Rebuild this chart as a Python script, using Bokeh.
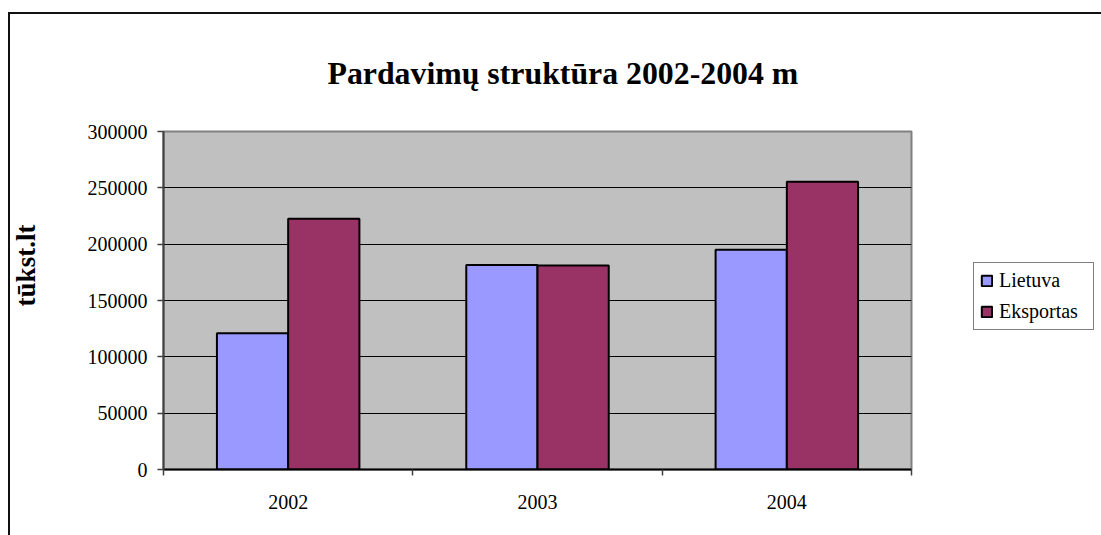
import math
from bokeh.plotting import figure
from bokeh.layouts import row
from bokeh.models import (Range1d, FixedTicker, Legend, LegendItem, Title, Label,
                          ColumnDataSource, NumeralTickFormatter, InlineStyleSheet)
from bokeh.transform import dodge
from bokeh.embed import file_html
from bokeh.resources import INLINE

# ---- data ----
years = ["2002", "2003", "2004"]
lietuva = [121000, 181500, 195000]
eksportas = [222500, 181000, 255500]
series_names = ["Lietuva", "Eksportas"]
series_colors = ["#9999FF", "#993366"]
y_ticks = [0, 50000, 100000, 150000, 200000, 250000, 300000]
title_text = "Pardavimų struktūra 2002-2004 m"
y_label_text = "tūkst.lt"

FONT = "Liberation Serif"
H = 535
WL, WA, WB = 70, 870, 161
TOP, BOTTOM = 131, 66          # borders around the plot area (frames are aligned in the row)

n = len(years)
centers = [i + 0.5 for i in range(n)]
src = ColumnDataSource(dict(x=centers, year=years, lietuva=lietuva, eksportas=eksportas))

# ---------- left strip: y-axis caption ----------
pl = figure(width=WL, height=H, x_range=Range1d(0, WL), y_range=Range1d(H - BOTTOM, TOP),
            x_axis_type=None, y_axis_type=None, output_backend="svg", toolbar_location=None,
            min_border=0, min_border_left=0, min_border_right=0,
            min_border_top=0, min_border_bottom=0)
pl.outline_line_color = None
pl.background_fill_color = "white"
pl.border_fill_color = "white"
pl.add_layout(Label(x=25, y=265, text=y_label_text, angle=math.pi / 2,
                    text_font=FONT, text_font_size="27px", text_font_style="bold",
                    text_align="center", text_baseline="middle", text_color="black"))

# ---------- main chart ----------
p = figure(width=WA, height=H,
           x_range=Range1d(0, n),
           y_range=Range1d(y_ticks[0], y_ticks[-1]),
           output_backend="svg", toolbar_location=None,
           min_border_left=93, min_border_right=29,
           min_border_top=TOP, min_border_bottom=BOTTOM)
p.background_fill_color = "#C0C0C0"
p.border_fill_color = "white"
p.outline_line_color = "#808080"
p.outline_line_width = 2

bw = 0.2857
r1 = p.vbar(x=dodge("x", -bw / 2), top="lietuva", width=bw, source=src,
            fill_color=series_colors[0], line_color="black", line_width=2)
r2 = p.vbar(x=dodge("x", bw / 2), top="eksportas", width=bw, source=src,
            fill_color=series_colors[1], line_color="black", line_width=2)

p.yaxis.ticker = FixedTicker(ticks=y_ticks)
p.yaxis.formatter = NumeralTickFormatter(format="0")
p.yaxis.major_label_text_font = FONT
p.yaxis.major_label_text_font_size = "20px"
p.yaxis.major_label_text_color = "black"
p.yaxis.major_tick_in = 0
p.yaxis.major_tick_out = 6
p.yaxis.major_tick_line_color = "#404040"
p.yaxis.major_tick_line_width = 1.5
p.yaxis.minor_tick_line_color = None
p.yaxis.axis_line_color = "#404040"
p.yaxis.axis_line_width = 2
p.yaxis.major_label_standoff = 10

p.ygrid.ticker = FixedTicker(ticks=y_ticks[1:-1])
p.ygrid.grid_line_color = "black"
p.ygrid.grid_line_width = 1
p.xgrid.grid_line_color = None

p.xaxis.ticker = FixedTicker(ticks=centers, minor_ticks=list(range(n + 1)))
p.xaxis.major_label_overrides = {c: y for c, y in zip(centers, years)}
p.xaxis.major_tick_line_color = None
p.xaxis.major_tick_in = 0
p.xaxis.major_tick_out = 0
p.xaxis.minor_tick_in = 0
p.xaxis.minor_tick_out = 6
p.xaxis.minor_tick_line_color = "#404040"
p.xaxis.minor_tick_line_width = 1.5
p.xaxis.axis_line_color = "black"
p.xaxis.axis_line_width = 2
p.xaxis.major_label_text_font = FONT
p.xaxis.major_label_text_font_size = "20px"
p.xaxis.major_label_text_color = "black"
p.xaxis.major_label_standoff = 19

p.title = Title(text=title_text, align="left", offset=164, standoff=82,
                text_font=FONT, text_font_size="31.8px", text_font_style="bold",
                text_color="black")

# ---------- right strip: legend ----------
pb = figure(width=WB, height=H, x_range=Range1d(0, 1), y_range=Range1d(0, 1),
            x_axis_type=None, y_axis_type=None, output_backend="svg", toolbar_location=None,
            min_border=0, min_border_left=0, min_border_right=0,
            min_border_top=0, min_border_bottom=0)
pb.outline_line_color = None
pb.background_fill_color = "white"
pb.border_fill_color = "white"
# hidden proxies of the two series, used only for the legend swatches
k1 = pb.vbar(x="x", top="lietuva", width=bw, source=src, visible=False,
             fill_color=series_colors[0], line_color="black", line_width=2)
k2 = pb.vbar(x="x", top="eksportas", width=bw, source=src, visible=False,
             fill_color=series_colors[1], line_color="black", line_width=2)
legend = Legend(items=[LegendItem(label=series_names[0], renderers=[k1]),
                       LegendItem(label=series_names[1], renderers=[k2])],
                location=(33, 139), orientation="vertical",
                border_line_color="black", border_line_width=1,
                background_fill_color="white", background_fill_alpha=1,
                label_text_font=FONT, label_text_font_size="20px", label_text_color="black",
                glyph_width=13, glyph_height=13, padding=6, spacing=8,
                label_standoff=6, label_height=21, label_width=88, margin=0)
pb.add_layout(legend, "center")

layout = row(pl, p, pb, spacing=0)
# outer chart border (only its left and top edges fall inside the picture)
layout.stylesheets = [InlineStyleSheet(css=(
    ":host::after{content:'';position:absolute;left:8px;top:12px;right:0;bottom:0;"
    "border-left:2px solid #111;border-top:2px solid #111;pointer-events:none;z-index:50;}"))]

open("out.html", "w").write(file_html(layout, INLINE))
